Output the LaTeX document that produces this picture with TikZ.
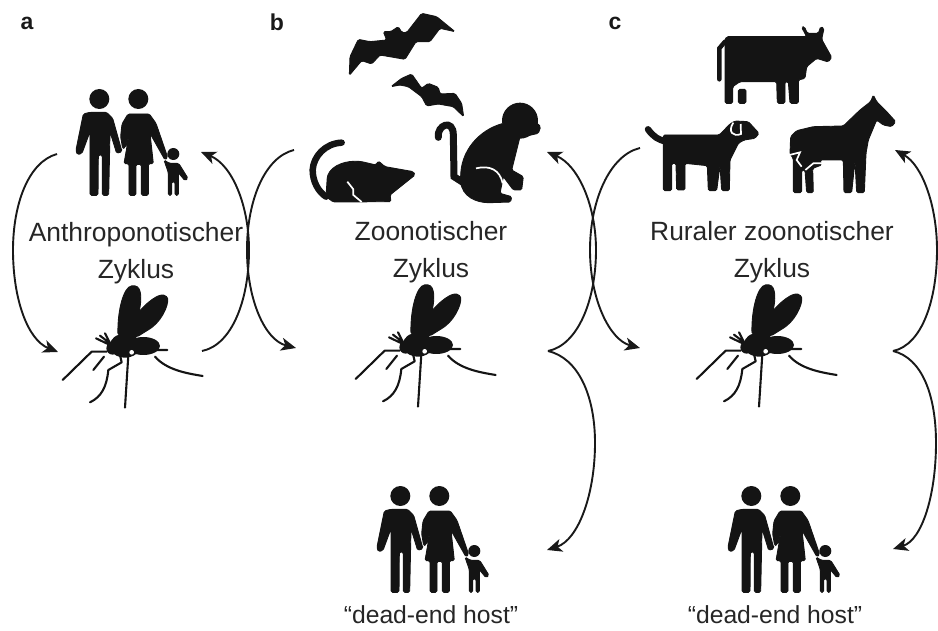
\documentclass[tikz,border=0pt]{standalone}
\usepackage{fontspec}
\setmainfont{Liberation Sans}
\usetikzlibrary{arrows.meta}
\tikzset{
  cycletext/.style={align=center, text=black!85, font=\fontsize{26.4}{37}\selectfont, inner sep=0pt},
  hosttext/.style={text=black!85, font=\fontsize{24.7}{28}\selectfont, inner sep=0pt},
  panel/.style={text=black!90, font=\fontsize{23}{24}\selectfont\bfseries, inner sep=0pt},
  cyclearrow/.style={line width=1.9pt, black!90, -{Stealth[length=15pt,width=13pt,inset=4pt]}},
  silhouette/.style={fill=black!92, draw=black!92, line width=0.9pt, rounded corners=1.5pt},
  limb/.style={draw=black!92, line width=2.1pt, line cap=round, line join=round},
  thicklimb/.style={draw=black!92, line width=6.5pt, line cap=round},
  whitecut/.style={draw=white, line width=1.7pt},
  units/.style={x=0.33333pt, y=-0.33333pt},
  family/.pic={
    \begin{scope}[units]
    \fill[black!92] (298,87) circle (30) (415,87) circle (30) (520,252) circle (18);
    \fill[silhouette] (250,132) -- (228,240) -- (232,254) -- (246,250) -- (270,185) -- (270,376) -- (294,376) -- (295,255) -- (307,255) -- (307,376) -- (326,376) -- (330,185) -- (350,250) -- (366,245) -- (338,145) -- (320,127) -- (270,127) -- cycle;
    \fill[silhouette] (366,162) -- (384,132) -- (448,132) -- (468,160) -- (503,262) -- (495,270) -- (450,190) -- (460,281) -- (445,281) -- (445,376) -- (424,376) -- (424,283) -- (408,283) -- (408,376) -- (387,376) -- (387,281) -- (372,281) -- (387,195) -- (376,232) -- (368,236) -- (362,200) -- cycle;
    \fill[silhouette] (492,270) -- (508,280) -- (536,280) -- (564,325) -- (555,332) -- (535,308) -- (535,376) -- (525,376) -- (525,335) -- (515,335) -- (515,376) -- (505,376) -- (505,308) -- cycle;
    \end{scope}
  },
  mosquito/.pic={
    \begin{scope}[units]
    \fill[silhouette] (174,180) .. controls (172,110) and (190,35) .. (220,32) .. controls (248,35) and (244,85) .. (236,112) .. controls (258,85) and (295,55) .. (316,62) .. controls (332,75) and (312,130) .. (272,160) -- (232,185) -- cycle;
    \fill[black!92] (195,212) ellipse (46 and 36) (158,220) circle (19) (250,213) ellipse (50 and 27);
    \draw[limb] (108,190) -- (150,210) (120,182) -- (150,205) (135,175) -- (150,205);
    \draw[limb] (8,315) -- (95,230) -- (140,230) (100,285) -- (132,245);
    \draw[limb] (90,382) .. controls (125,365) and (140,335) .. (145,285) -- (185,262) -- (180,240);
    \draw[limb] (195,398) -- (205,240) (290,225) -- (322,225);
    \draw[limb] (285,245) .. controls (320,285) and (380,295) .. (428,303);
    \fill[white] (215,232) circle (7);
    \end{scope}
  },
}
\begin{document}
\begin{tikzpicture}[x=1pt, y=-1pt]
\useasboundingbox (0,0) rectangle (938,631);

\node[panel] (pa) at (27,23) {a};
\node[panel] (pb) at (277,22) {b};
\node[panel] (pc) at (615,23) {c};

\node[cycletext] (ca) at (136,253) {Anthroponotischer\\Zyklus};
\node[cycletext] (cb) at (431,252) {Zoonotischer\\Zyklus};
\node[cycletext] (cc) at (772,252) {Ruraler zoonotischer\\Zyklus};
\node[hosttext] (hb) at (431,615) {“dead-end host”};
\node[hosttext] (hc) at (775,615) {“dead-end host”};

\pic (fa) at (0,70) {family};
\pic (fb) at (301,467) {family};
\pic (fc) at (652,467) {family};
\pic (ma) at (60,275) {mosquito};
\pic (mb) at (353,274) {mosquito};
\pic (mc) at (694,274) {mosquito};

% bats, rat, monkey
\begin{scope}[shift={(290,0)}, units]
\fill[silhouette] (178,226) -- (180,170) -- (205,118) -- (240,125) -- (290,120) -- (280,95) -- (302,95) -- (325,80) -- (335,97) -- (350,98) -- (395,40) -- (440,50) -- (495,95) -- (450,85) -- (420,125) -- (378,125) -- (345,178) -- (270,165) -- (245,192) -- (215,182) -- cycle;
\fill[silhouette] (303,260) -- (335,235) -- (365,222) -- (395,265) -- (415,250) -- (445,262) -- (450,282) -- (495,280) -- (515,310) -- (521,350) -- (490,320) -- (445,312) -- (410,318) -- (395,290) -- (355,260) -- (330,255) -- cycle;
\draw[thicklimb] (155,428) .. controls (105,430) and (70,470) .. (68,510) .. controls (68,545) and (85,575) .. (108,590);
\fill[silhouette] (108,590) -- (112,530) .. controls (125,495) and (170,480) .. (215,485) -- (258,495) -- (265,483) -- (285,500) -- (370,515) -- (375,525) -- (300,585) -- (303,605) -- (130,606) -- cycle;
\draw[whitecut] (172,545) -- (190,568) -- (190,585) -- (215,606);
\draw[thicklimb, line width=7pt] (445,412) .. controls (440,375) and (490,355) .. (490,405) -- (492,530) -- (520,548);
\fill[black!92] (690,362) circle (54);
\fill[silhouette] (720,350) -- (752,380) -- (745,400) -- (700,410) -- cycle;
\fill[silhouette] (640,370) .. controls (570,390) and (510,450) .. (512,540) .. controls (515,590) and (560,608) .. (600,608) -- (662,606) -- (665,590) -- (630,580) -- (640,530) -- (670,570) -- (695,570) -- (700,530) -- (665,510) -- (690,410) -- cycle;
\draw[whitecut] (558,505) .. controls (600,495) and (630,510) .. (638,550);
\end{scope}

% cow, dog, horse
\begin{scope}[shift={(620,0)}, units]
\draw[thicklimb, line width=4.5pt] (298,238) -- (298,145) -- (315,125);
\fill[silhouette] (320,110) -- (560,110) -- (545,82) -- (553,80) -- (562,100) -- (595,100) -- (602,80) -- (612,85) -- (605,118) -- (635,172) -- (625,186) -- (590,175) -- (560,200) -- (555,235) -- (535,240) -- (535,310) -- (510,310) -- (505,245) -- (495,245) -- (495,310) -- (472,310) -- (470,245) -- (360,245) -- (338,260) -- (338,310) -- (315,310) -- (315,120) -- cycle;
\fill[silhouette] (355,268) -- (378,268) -- (378,310) -- (355,310) -- cycle;
\draw[thicklimb, line width=6.5pt] (84,388) .. controls (100,410) and (115,420) .. (140,425);
\fill[silhouette] (130,405) -- (298,405) -- (330,372) -- (345,363) -- (385,365) -- (417,400) -- (405,415) -- (372,420) -- (355,430) -- (330,480) -- (328,572) -- (305,572) -- (300,495) -- (290,572) -- (265,572) -- (262,497) -- (195,490) -- (195,570) -- (170,570) -- (168,490) -- (155,490) -- (155,572) -- (130,572) -- cycle;
\draw[whitecut] (340,368) .. controls (322,395) and (340,412) .. (363,402) -- (362,372);
\fill[silhouette] (512,410) -- (530,392) -- (580,380) -- (670,378) -- (720,330) -- (752,305) -- (760,285) -- (770,305) -- (800,335) -- (827,365) -- (815,380) -- (790,375) -- (770,360) -- (745,420) -- (738,460) -- (733,578) -- (710,578) -- (705,482) -- (695,578) -- (672,578) -- (670,480) -- (600,480) -- (605,495) -- (578,505) -- (580,578) -- (560,578) -- (555,510) -- (545,510) -- (545,578) -- (520,578) -- (520,475) -- (510,462) -- cycle;
\draw[whitecut] (508,465) -- (540,457) -- (530,480) -- (545,500);
\draw[whitecut] (556,510) -- (580,490) -- (606,490);
\end{scope}

\coordinate (a1) at (57,154);
\coordinate (a2) at (58,352);
\coordinate (a3) at (202,351);
\coordinate (a4) at (201,152);
\coordinate (b1) at (294,150);
\coordinate (b2) at (296,348);
\coordinate (b3) at (548,351);
\coordinate (b4) at (547,152);
\coordinate (b5) at (547,550);
\coordinate (c1) at (640,148);
\coordinate (c2) at (640,348);
\coordinate (c3) at (893,351);
\coordinate (c4) at (895,150);
\coordinate (c5) at (893,549);

\draw[cyclearrow] (a1) .. controls (28,162) and (13,205) .. (13,250) .. controls (13,300) and (28,340) .. (a2);
\draw[cyclearrow] (a3) .. controls (232,345) and (249,300) .. (249,250) .. controls (249,205) and (232,165) .. (a4);
\draw[cyclearrow] (b1) .. controls (265,157) and (247,200) .. (247,250) .. controls (247,300) and (265,340) .. (b2);
\draw[cyclearrow] (b3) .. controls (578,345) and (596,300) .. (596,250) .. controls (596,205) and (578,165) .. (b4);
\draw[cyclearrow] (c1) .. controls (610,155) and (590,200) .. (590,250) .. controls (590,300) and (610,340) .. (c2);
\draw[cyclearrow] (b3) .. controls (578,358) and (595,395) .. (595,443) .. controls (595,495) and (578,540) .. (b5);
\draw[cyclearrow] (c3) .. controls (922,345) and (937,300) .. (937,250) .. controls (937,205) and (922,165) .. (c4);
\draw[cyclearrow] (c3) .. controls (922,358) and (936,395) .. (936,443) .. controls (936,495) and (922,540) .. (c5);
\end{tikzpicture}
\end{document}
